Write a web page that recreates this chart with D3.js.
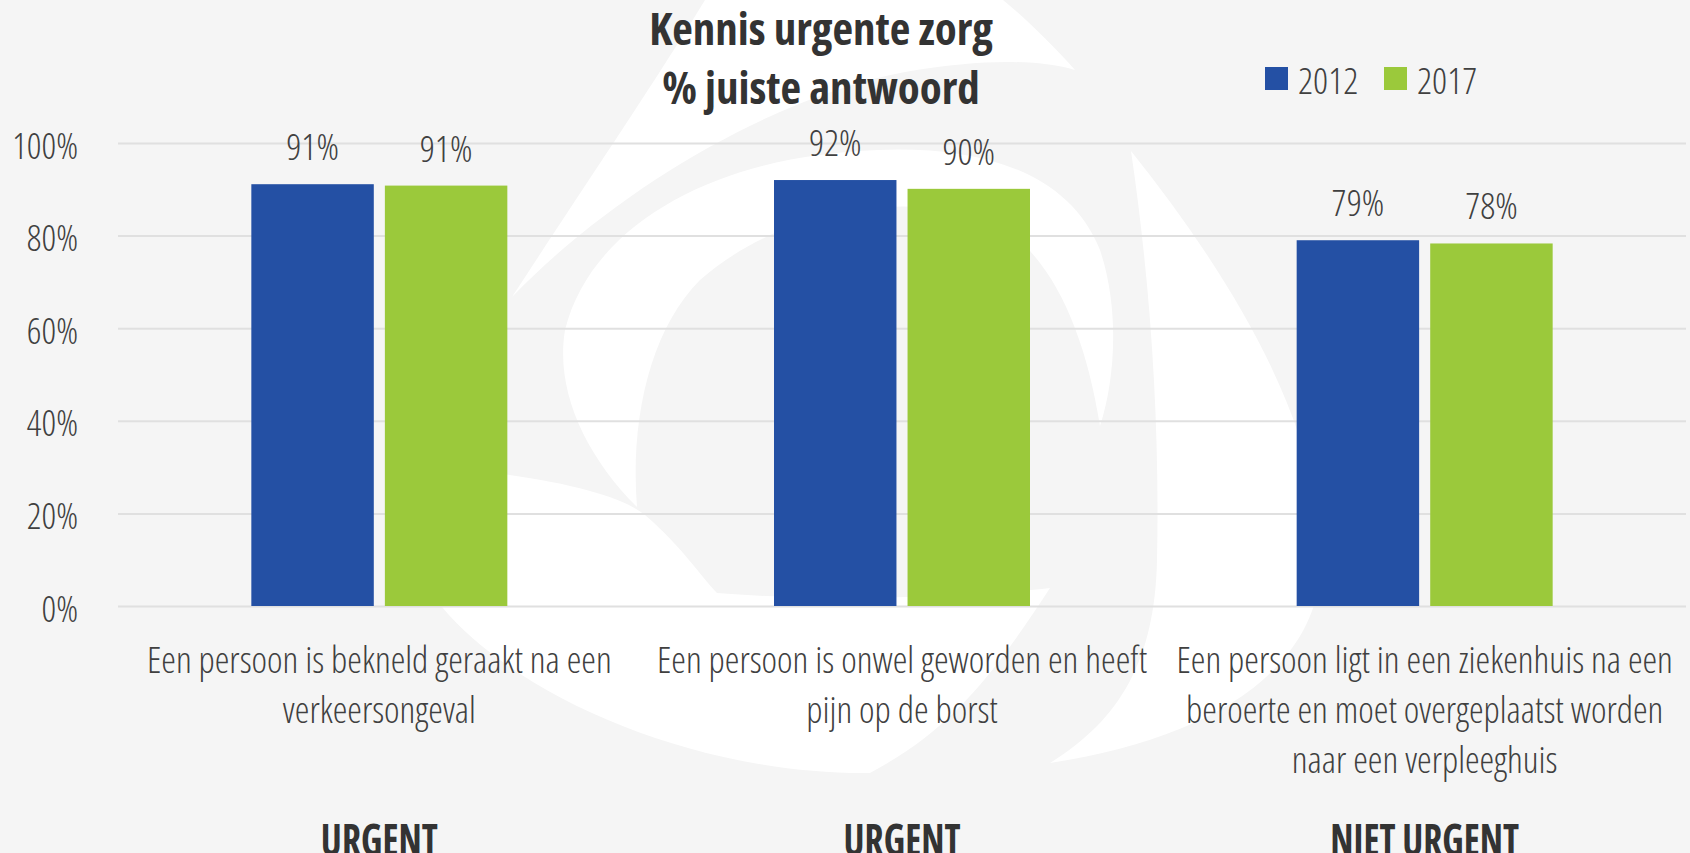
<!DOCTYPE html>
<html>
<head>
<meta charset="utf-8">
<script src="https://cdn.jsdelivr.net/npm/d3@7"></script>
<style>
  html, body { margin: 0; padding: 0; background: #f5f5f5; }
  svg text { font-family: "Open Sans", "Liberation Sans Narrow", "DejaVu Sans Condensed", sans-serif; font-stretch: 75%; }
</style>
</head>
<body>
<div id="chart"></div>
<script>
// data
const categories = [
  "Een persoon is bekneld geraakt na een\nverkeersongeval",
  "Een persoon is onwel geworden en heeft\npijn op de borst",
  "Een persoon ligt in een ziekenhuis na een\nberoerte en moet overgeplaatst worden\nnaar een verpleeghuis"
];
const groupLabels = ["URGENT", "URGENT", "NIET URGENT"];
const years = ["2012", "2017"];
const values2012 = [0.911, 0.920, 0.790];
const values2017 = [0.908, 0.901, 0.783];
const yTicks = [0, 0.2, 0.4, 0.6, 0.8, 1.0];
const titleLines = ["Kennis urgente zorg", "% juiste antwoord"];

const colors = {"2012": "#2450a4", "2017": "#9bc93b"};

const W = 1690, H = 853;
const margin = {top: 143, right: 4, bottom: 247, left: 118};
const width = W - margin.left - margin.right,
  height = H - margin.top - margin.bottom;

const svg = d3.select("#chart").append("svg")
  .attr("width", W)
  .attr("height", H);

svg.append("rect").attr("width", W).attr("height", H).attr("fill", "#f5f5f5");

// watermark logo in the background (white swirl)
const logo = svg.append("g").attr("fill", "#ffffff");
[
  // top blade
  "M705,0 C650,90 575,200 512,297 C620,185 780,95 905,72 C985,58 1040,60 1075,70 C1050,42 1025,18 1003,0 Z",
  // arch
  "M637,507 C585,455 555,390 565,330 C590,230 700,170 820,155 C930,140 1060,150 1100,250 C1120,310 1115,380 1100,426 C1085,330 1050,250 990,220 C900,190 780,210 700,280 C650,330 630,420 637,507 Z",
  // right blade
  "M1131,151 C1250,300 1330,450 1320,580 C1305,680 1200,740 1050,763 C1120,720 1155,660 1157,560 C1160,420 1150,280 1131,151 Z",
  // bottom swoop
  "M470,470 C560,480 620,495 645,515 C680,545 700,575 717,593 C800,600 950,600 1050,588 C990,680 950,730 870,773 C700,775 520,700 442,607 C450,560 460,510 470,470 Z"
].forEach(p => logo.append("path").attr("d", p));

const g = svg.append("g")
  .attr("transform", `translate(${margin.left},${margin.top})`);

const x0 = d3.scaleBand()
  .domain(d3.range(categories.length))
  .range([0, width])
  .padding(0);

const x1 = d3.scaleBand()
  .domain(years)
  .range([-128, 128])
  .paddingInner(0.083);

const y = d3.scaleLinear()
  .domain([0, 1])
  .range([height, 0]);

// y axis + gridlines
const yAxis = g.append("g")
  .call(d3.axisLeft(y)
    .tickValues(yTicks)
    .tickFormat(d3.format(".0%"))
    .tickSize(-width)
    .tickPadding(40));
yAxis.select(".domain").remove();
yAxis.selectAll(".tick line")
  .attr("stroke", "#e0e0e0")
  .attr("stroke-width", 2);
yAxis.selectAll(".tick text")
  .attr("fill", "#404040")
  .attr("dy", "0.42em")
  .style("font-size", "36px")
  .style("font-weight", 300);

// bars
const rows = categories.map((c, i) => ({i, "2012": values2012[i], "2017": values2017[i]}));

const groups = g.append("g")
  .selectAll("g")
  .data(rows)
  .join("g")
  .attr("transform", d => `translate(${x0(d.i) + x0.bandwidth() / 2},0)`);

groups.selectAll("rect")
  .data(d => years.map(k => ({key: k, value: d[k]})))
  .join("rect")
  .attr("x", d => x1(d.key))
  .attr("y", d => y(d.value))
  .attr("width", x1.bandwidth())
  .attr("height", d => y(0) - y(d.value))
  .attr("fill", d => colors[d.key]);

groups.selectAll("text.val")
  .data(d => years.map(k => ({key: k, value: d[k]})))
  .join("text")
  .attr("class", "val")
  .attr("x", d => x1(d.key) + x1.bandwidth() / 2)
  .attr("y", d => y(d.value) - 24)
  .attr("text-anchor", "middle")
  .attr("fill", "#404040")
  .style("font-size", "37px")
  .style("font-weight", 300)
  .text(d => d3.format(".0%")(d.value));

// category labels
const catLabels = g.append("g")
  .selectAll("text")
  .data(categories)
  .join("text")
  .attr("text-anchor", "middle")
  .attr("fill", "#404040")
  .style("font-size", "37px")
  .style("font-weight", 300)
  .attr("transform", (d, i) => `translate(${x0(i) + x0.bandwidth() / 2},${height + 67})`);

catLabels.selectAll("tspan")
  .data(d => d.split("\n"))
  .join("tspan")
  .attr("x", 0)
  .attr("y", (d, i) => i * 50)
  .text(d => d);

// group labels (URGENT / NIET URGENT), tall and narrow
g.append("g")
  .selectAll("text")
  .data(groupLabels)
  .join("text")
  .attr("transform", (d, i) => `translate(${x0(i) + x0.bandwidth() / 2},${H - margin.top + 3}) scale(0.85,1)`)
  .attr("text-anchor", "middle")
  .attr("fill", "#333333")
  .style("font-size", "44px")
  .style("font-weight", 700)
  .text(d => d);

// title
svg.append("g")
  .selectAll("text")
  .data(titleLines)
  .join("text")
  .attr("x", 821)
  .attr("y", (d, i) => 45 + i * 59)
  .attr("text-anchor", "middle")
  .attr("fill", "#333333")
  .style("font-size", "45px")
  .style("font-weight", 700)
  .text(d => d);

// legend
const legend = svg.append("g")
  .attr("transform", "translate(1265,67)")
  .selectAll("g")
  .data(years)
  .join("g")
  .attr("transform", (d, i) => `translate(${i * 119},0)`);

legend.append("rect")
  .attr("width", 23)
  .attr("height", 23)
  .attr("fill", d => colors[d]);

legend.append("text")
  .attr("x", 33)
  .attr("y", 27)
  .attr("fill", "#404040")
  .style("font-size", "37px")
  .style("font-weight", 300)
  .text(d => d);
</script>
</body>
</html>
